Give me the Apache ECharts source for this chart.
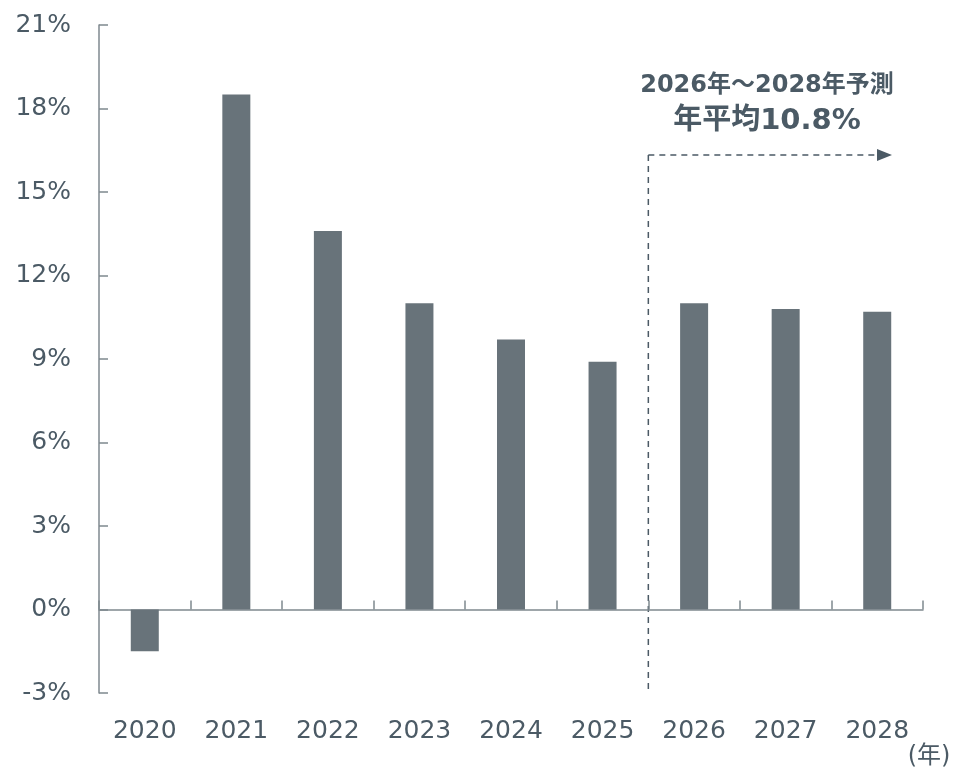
<!DOCTYPE html>
<html>
<head>
<meta charset="utf-8">
<script src="https://cdn.jsdelivr.net/npm/echarts@6/dist/echarts.min.js"></script>
<style>html,body{margin:0;padding:0;background:#fff}#c{width:955px;height:770px}</style>
</head>
<body>
<div id="c"></div>
<script>
const categories = ['2020','2021','2022','2023','2024','2025','2026','2027','2028'];
const growth = [-1.5, 18.5, 13.6, 11.0, 9.7, 8.9, 11.0, 10.8, 10.7];
const yTicks = { min: -3, max: 21, interval: 3 };
const noteLine1 = '2026年～2028年予測';
const noteLine2 = '年平均10.8%';
const unitLabel = '(年)';

const FONT = '"DejaVu Sans", "Noto Sans CJK JP", sans-serif';
const TXT = '#4b5a65';
const AX = '#7f898f';
const BAR = '#68737a';

const chart = echarts.init(document.getElementById('c'));
chart.setOption({
  animation: false,
  grid: { left: 99, right: 32, top: 25, bottom: 77 },
  xAxis: [{
    type: 'category', data: categories, boundaryGap: true,
    axisLine: { onZero: true, lineStyle: { color: AX, width: 1.5 } },
    axisTick: { show: true, inside: true, length: 9, alignWithLabel: false, lineStyle: { color: AX, width: 1.5 } },
    axisLabel: { show: false }
  }, {
    type: 'category', data: categories, position: 'bottom', boundaryGap: true,
    axisLine: { show: false, onZero: false }, axisTick: { show: false },
    axisLabel: { show: true, margin: 26, color: TXT, fontSize: 25, fontFamily: FONT }
  }],
  yAxis: {
    type: 'value', min: yTicks.min, max: yTicks.max, interval: yTicks.interval,
    axisLine: { show: true, lineStyle: { color: AX, width: 1.5 } },
    axisTick: { show: true, inside: true, length: 9, lineStyle: { color: AX, width: 1.5 } },
    splitLine: { show: false },
    axisLabel: { formatter: '{value}%', margin: 28, color: TXT, fontSize: 25, fontFamily: FONT }
  },
  series: [{
    type: 'bar', xAxisIndex: 0, data: growth, barWidth: 28,
    itemStyle: { color: BAR }
  }]
});

// annotation positioned from the axis scale
const p5 = chart.convertToPixel({ xAxisIndex: 0 }, '2025');
const p6 = chart.convertToPixel({ xAxisIndex: 0 }, '2026');
const xDiv = (p5 + p6) / 2;
const yBottom = chart.convertToPixel({ yAxisIndex: 0 }, yTicks.min);
const yArrow = 155;
const xEnd = 892;
const cx = 767;
chart.setOption({
  graphic: [
    { type: 'line', shape: { x1: xDiv, y1: yArrow, x2: xDiv, y2: yBottom }, style: { stroke: '#4b5a65', lineWidth: 1.5, lineDash: [6, 5] } },
    { type: 'line', shape: { x1: xDiv, y1: yArrow, x2: xEnd - 14, y2: yArrow }, style: { stroke: '#4b5a65', lineWidth: 1.5, lineDash: [6, 5] } },
    { type: 'polygon', shape: { points: [[xEnd - 15, yArrow - 6], [xEnd, yArrow], [xEnd - 15, yArrow + 6]] }, style: { fill: '#4b5a65' } },
    { type: 'text', x: cx, y: 86, style: { text: noteLine1, fill: TXT, font: 'bold 24px ' + FONT, textAlign: 'center', textVerticalAlign: 'middle' } },
    { type: 'text', x: cx, y: 121, style: { text: noteLine2, fill: TXT, font: 'bold 29px ' + FONT, textAlign: 'center', textVerticalAlign: 'middle' } },
    { type: 'text', x: 929, y: 757, style: { text: unitLabel, fill: TXT, font: '24px ' + FONT, textAlign: 'center', textVerticalAlign: 'middle' } }
  ]
});
</script>
</body>
</html>
